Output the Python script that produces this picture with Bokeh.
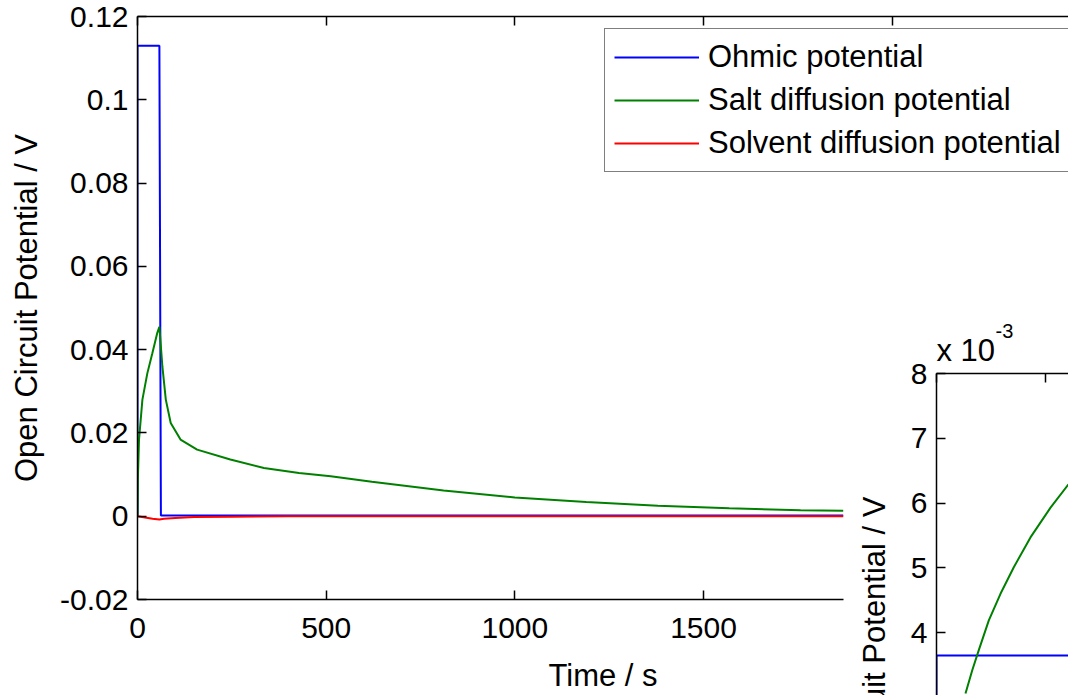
from bokeh.plotting import figure
from bokeh.models import (Range1d, LinearAxis, FixedTicker, CustomJSTickFormatter,
                          Legend, LegendItem, Title)
from bokeh.layouts import column
from bokeh.embed import file_html
from bokeh.resources import INLINE

# ---------------- data (main chart) ----------------
time_ohmic = [0, 0, 58, 62, 1870]
ohmic = [0, 0.113, 0.113, 0.0002, 0.0002]

time_salt = [0, 1, 4, 13, 26, 39, 52, 58, 66, 75, 88, 114, 158, 246, 335, 428,
             512, 621, 811, 1000, 1189, 1379, 1568, 1757, 1870]
salt = [0, 0.009, 0.0184, 0.028, 0.0343, 0.039, 0.0439, 0.0455, 0.0359, 0.028,
        0.0224, 0.0184, 0.016, 0.0136, 0.0116, 0.0104, 0.0096, 0.0083, 0.0062,
        0.0045, 0.0034, 0.0025, 0.0019, 0.00145, 0.0013]

time_solvent = [0, 20, 40, 58, 70, 100, 150, 250, 400, 1870]
solvent = [0, -0.0003, -0.0006, -0.0008, -0.0006, -0.0004, -0.0002, -0.0001, 0, 0]

x_ticks_bottom = [0, 500, 1000, 1500]
x_ticks_top = [0, 500, 1000, 1500, 2000]
y_ticks = [-0.02, 0, 0.02, 0.04, 0.06, 0.08, 0.1, 0.12]
series_names = ["Ohmic potential", "Salt diffusion potential", "Solvent diffusion potential"]

# ---------------- data (inset, units of 1e-3 V) ----------------
inset_time_ohmic = [0, 0, 125]
inset_ohmic = [0, 3.646, 3.646]
inset_time_salt = [26.6, 32.8, 38.8, 48.0, 58.7, 70.9, 86.2, 104.6, 121.1]
inset_salt = [3.06, 3.42, 3.73, 4.19, 4.60, 5.01, 5.47, 5.93, 6.29]
inset_x_ticks = [0, 100]
inset_y_ticks = [3, 4, 5, 6, 7, 8]

FONT = "Liberation Sans"
FS = "30px"
FS_L = "31px"
BLUE, GREEN, RED = "#0000ff", "#008000", "#ff0000"


def style_axis(ax, labels=True):
    ax.axis_line_color = "black"
    ax.axis_line_width = 1.5
    ax.major_tick_line_color = "black"
    ax.major_tick_line_width = 1.5
    ax.major_tick_in = 9
    ax.major_tick_out = 0
    ax.minor_tick_line_color = None
    ax.major_label_text_font = FONT
    ax.major_label_text_color = "black"
    if labels:
        ax.major_label_text_font_size = FS
    else:
        ax.major_label_text_font_size = "1px"
        ax.major_label_text_alpha = 0
    ax.axis_label_text_font = FONT
    ax.axis_label_text_font_size = FS_L
    ax.axis_label_text_font_style = "normal"
    ax.axis_label_text_color = "black"


# ---------------- main figure ----------------
p = figure(width=1068, height=695, x_range=Range1d(0, 2467), y_range=Range1d(-0.02, 0.12),
           output_backend="svg", toolbar_location=None,
           min_border_left=137, min_border_top=16, min_border_bottom=93, min_border_right=0)
p.outline_line_color = None
p.xgrid.visible = False
p.ygrid.visible = False
p.background_fill_color = "white"
p.border_fill_color = "white"

xa = p.xaxis[0]
ya = p.yaxis[0]
xa.ticker = FixedTicker(ticks=x_ticks_bottom)
xa.bounds = (0, 1870)
ya.ticker = FixedTicker(ticks=y_ticks)
ya.formatter = CustomJSTickFormatter(code="return String(Number(tick.toFixed(4)));")
style_axis(xa)
style_axis(ya)
xa.axis_label = "Time / s"
ya.axis_label = "Open Circuit Potential / V"
xa.major_label_standoff = 18
xa.axis_label_standoff = 17
ya.major_label_standoff = 9
ya.axis_label_standoff = 13

top = LinearAxis(ticker=FixedTicker(ticks=x_ticks_top))
style_axis(top, labels=False)
top.major_label_standoff = 0
p.add_layout(top, "above")

r_ohm = p.line(time_ohmic, ohmic, line_color=BLUE, line_width=2)
r_salt = p.line(time_salt, salt, line_color=GREEN, line_width=2)
r_solv = p.line(time_solvent, solvent, line_color=RED, line_width=2)

legend = Legend(items=[LegendItem(label=series_names[0], renderers=[r_ohm]),
                       LegendItem(label=series_names[1], renderers=[r_salt]),
                       LegendItem(label=series_names[2], renderers=[r_solv])],
                location=(467, 427))
legend.label_text_font = FONT
legend.label_text_font_size = FS_L
legend.label_text_color = "black"
legend.glyph_width = 85
legend.glyph_height = 38
legend.label_height = 38
legend.spacing = 5
legend.padding = 9
legend.margin = 0
legend.label_standoff = 9
legend.border_line_color = "black"
legend.border_line_width = 1.3
legend.background_fill_color = "white"
legend.background_fill_alpha = 1
p.add_layout(legend)

# ---------------- inset figure ----------------
q = figure(width=269, height=395, x_range=Range1d(0, 121.1), y_range=Range1d(3.03, 8),
           output_backend="svg", toolbar_location=None,
           min_border_left=137, min_border_top=73, min_border_bottom=0, min_border_right=0,
           x_axis_location=None)
q.outline_line_color = None
q.xgrid.visible = False
q.ygrid.visible = False
q.background_fill_color = "white"
q.border_fill_alpha = 0
qy = q.yaxis[0]
qy.ticker = FixedTicker(ticks=inset_y_ticks)
style_axis(qy)
qy.major_label_standoff = 9
qtop = LinearAxis(ticker=FixedTicker(ticks=inset_x_ticks))
style_axis(qtop, labels=False)
qtop.major_label_standoff = 0
q.add_layout(qtop, "above")

q.line(inset_time_ohmic, inset_ohmic, line_color=BLUE, line_width=2)
q.line(inset_time_salt, inset_salt, line_color=GREEN, line_width=2)

t_exp = Title(text="x 10", align="left", offset=0, standoff=12, text_font=FONT,
              text_font_size=FS_L, text_font_style="normal", text_color="black")
q.add_layout(t_exp, "above")
t_pow = Title(text="-3", align="left", offset=59, standoff=-27, text_font=FONT,
              text_font_size="20px", text_font_style="normal", text_color="black")
q.add_layout(t_pow, "above")
t_ylab = Title(text="Open Circuit Potential / V", align="right", offset=123, standoff=31,
               text_font=FONT, text_font_size=FS_L, text_font_style="normal",
               text_color="black")
q.add_layout(t_ylab, "left")

q.margin = (-395, 0, 0, 799)

layout = column(p, q, spacing=0)
open("out.html", "w").write(file_html(layout, INLINE))
